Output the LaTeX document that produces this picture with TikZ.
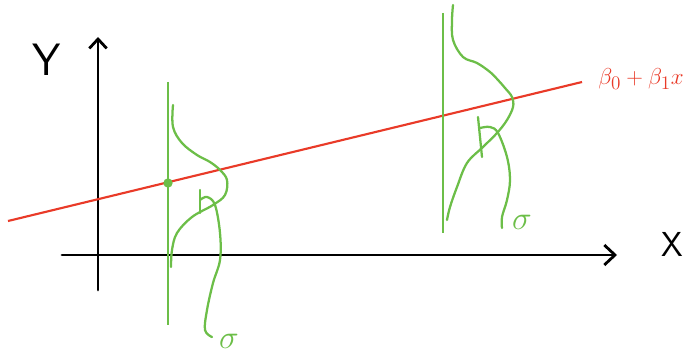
\documentclass[tikz,border=0pt]{standalone}
\usepackage{tikz}
\usetikzlibrary{
	arrows.meta,
	positioning
}
\definecolor{penred}{RGB}{233,58,40}
\definecolor{pengreen}{RGB}{108,190,72}

\begin{document}
\begin{tikzpicture}[x=0.75pt,y=-0.75pt,
    axis/.style={line width=2.1pt, line cap=round},
    fitline/.style={penred, line width=1.6pt},
    slice/.style={pengreen, line width=1.7pt},
    bell/.style={pengreen, line width=1.7pt, line cap=round, line join=round},
    hand/.style={font=\fontsize{#1}{#1}\selectfont\sffamily}
]

\useasboundingbox (0,0) rectangle (691,356);

% Axes
\coordinate (xstart) at (62,255);
\coordinate (xend) at (617,255);
\coordinate (ystart) at (98,290);
\coordinate (yend) at (98,37);
\draw[axis, -{Straight Barb[length=8pt,width=15pt,line width=2.1pt]}] (xstart) -- (xend);
\draw[axis, -{Straight Barb[length=7pt,width=13pt,line width=2.1pt]}] (ystart) -- (yend);

% Axis labels
\node[hand=34] (ylab) at (47,60) {Y};
\node[hand=26] (xlab) at (672,244) {X};

% Regression line
\coordinate (fitleft) at (8,221);
\coordinate (fitright) at (582,82);
\draw[fitline] (fitleft) -- (fitright);
\node[penred, font=\fontsize{19}{19}\selectfont] (fitlab) at (641,79) {$\beta_0+\beta_1x$};

% First slice
\coordinate (slicea top) at (168,82);
\coordinate (slicea bot) at (168,325);
\draw[slice] (slicea top) -- (slicea bot);
\node[circle, fill=pengreen, inner sep=0pt, minimum size=7pt] (meana) at (168,183) {};

% First bell curve
\draw[bell] plot[smooth, tension=0.6] coordinates {(173,105) (173,127) (182,143) (197,155)
    (210,162) (220,170) (227,180) (225,195) (213,205) (192,217) (177,233) (172,250) (171,267)};

% First sigma mark and pointer
\draw[bell] (200,213) -- (200,190);
\draw[bell] plot[smooth, tension=0.6] coordinates {(200,200) (207,197) (215,205) (220,233)
    (220,260) (213,283) (207,310) (205,330) (212,337)};
\node[pengreen, font=\fontsize{27}{27}\selectfont] (sigmaa) at (229,341) {$\sigma$};

% Second slice
\coordinate (sliceb top) at (443,13);
\coordinate (sliceb bot) at (443,233);
\draw[slice] (sliceb top) -- (sliceb bot);

% Second bell curve
\draw[bell] plot[smooth, tension=0.6] coordinates {(453,5) (452,20) (453,40) (463,57) (477,63)
    (490,72) (498,80) (505,88) (512,97) (513,107) (507,120) (497,133) (483,147) (467,163)
    (457,187) (450,207) (447,220)};

% Second sigma mark and pointer
\draw[bell] (478,117) -- (482,157);
\draw[bell] plot[smooth, tension=0.6] coordinates {(480,128) (490,127) (498,133) (507,157)
    (510,180) (507,200) (502,217) (502,228)};
\node[pengreen, font=\fontsize{27}{27}\selectfont] (sigmab) at (522,222) {$\sigma$};

\end{tikzpicture}
\end{document}
